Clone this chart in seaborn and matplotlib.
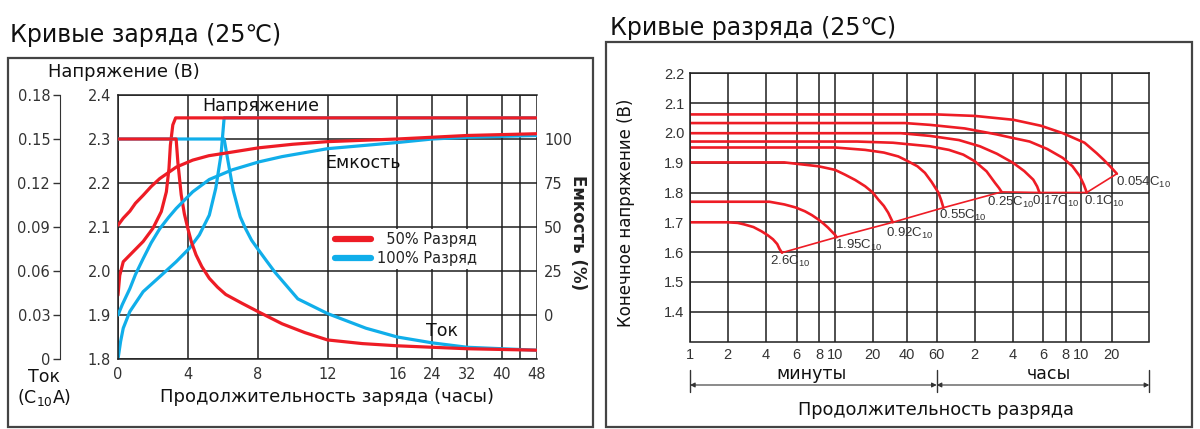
import numpy as np
import pandas as pd
import matplotlib
matplotlib.use("Agg")
import matplotlib.pyplot as plt
from matplotlib.patches import Rectangle
from matplotlib.lines import Line2D
import seaborn as sns

sns.set_style("white")
plt.rcParams['font.family'] = ['DejaVu Sans', 'Noto Sans CJK SC']

RED = '#ee1c25'
BLUE = '#10aeea'
INK = '#333333'
GRID = '#1e1e1e'

# ---------------- charge curves (hours) ----------------
charge_ticks = [0, 4, 8, 12, 16, 24, 32, 40, 48]

volt50_t = [0, 0.1, 0.3, 0.87, 1.44, 2.0, 2.48, 2.77, 2.92, 3.0, 3.14, 3.3, 48]
volt50_v = [1.945, 1.99, 2.021, 2.044, 2.067, 2.097, 2.135, 2.18, 2.233, 2.286, 2.332, 2.348, 2.348]
volt100_t = [0, 0.15, 0.3, 0.68, 1.44, 2.39, 3.33, 4.1, 4.66, 5.23, 5.6, 5.9, 6.08, 48]
volt100_v = [1.80, 1.84, 1.87, 1.908, 1.953, 1.987, 2.021, 2.052, 2.082, 2.127, 2.188, 2.264, 2.348, 2.348]

cur50_t = [0, 3.33, 3.43, 3.62, 3.8, 4.0, 4.2, 4.47, 4.8, 5.23, 5.7, 6.17, 7.1, 8.07, 9.4, 10.7,
           12, 14, 16, 24, 32, 48]
cur50_a = [0.15, 0.15, 0.134, 0.112, 0.099, 0.089, 0.080, 0.071, 0.063, 0.055, 0.049, 0.044, 0.038,
           0.032, 0.024, 0.018, 0.013, 0.0105, 0.009, 0.008, 0.007, 0.006]
cur100_t = [0, 6.08, 6.3, 6.6, 7.0, 7.3, 7.65, 8.07, 8.5, 9.0, 10.3, 12, 14.2, 16, 20, 24, 32, 48]
cur100_a = [0.15, 0.15, 0.135, 0.115, 0.097, 0.089, 0.081, 0.074, 0.067, 0.059, 0.041, 0.031,
            0.021, 0.015, 0.013, 0.011, 0.008, 0.006]

cap50_t = [0, 0.3, 0.68, 1.0, 1.44, 1.9, 2.39, 2.9, 3.33, 4.28, 5.2, 6.17, 8.07, 10, 12, 16, 24,
           32, 48]
cap50_p = [51, 55, 59, 63.5, 68, 73, 77.5, 81, 84, 88, 90.5, 92, 95, 97, 98.5, 100, 101, 102, 103]
cap100_t = [0, 0.25, 0.68, 1.0, 1.44, 1.9, 2.39, 2.9, 3.33, 4.28, 5.23, 6.55, 8.07, 9.4, 12, 16,
            24, 32, 48]
cap100_p = [0, 6, 15, 23, 32, 41, 49, 55.5, 60.5, 70, 77, 82.5, 87, 90, 94.5, 98, 100, 101, 102]

# ---------------- discharge curves (minutes) ----------------
rates = ["2.6", "1.95", "0.92", "0.55", "0.25", "0.17", "0.1", "0.054"]
dis_t = [
    [1, 2.0, 2.4, 2.7, 3.2, 3.7, 4.1, 4.4, 4.65, 4.8, 4.95],
    [1, 4.2, 5.1, 5.9, 6.67, 7.3, 7.95, 8.5, 9.08, 9.6, 10.0, 10.3],
    [1, 5.1, 7.95, 10, 12, 14.5, 17.4, 20, 22.4, 25, 27.3, 29.9],
    [1, 10, 17.4, 25, 33.4, 40, 46, 51, 56, 61.8, 65, 67.8],
    [1, 15, 30, 54.6, 75, 97.5, 120, 149, 174, 187, 196],
    [1, 35, 54.6, 90, 132, 180, 242, 280, 316, 333, 343],
    [1, 38, 54.6, 100, 179, 240, 301, 380, 463, 530, 591, 640, 683],
    [1, 60, 120, 242, 350, 463, 650, 854, 1000, 1157, 1320],
]
dis_v = [
    [1.70, 1.70, 1.698, 1.693, 1.684, 1.67, 1.657, 1.643, 1.627, 1.61, 1.598],
    [1.769, 1.769, 1.76, 1.75, 1.737, 1.724, 1.709, 1.696, 1.682, 1.668, 1.658, 1.65],
    [1.901, 1.901, 1.888, 1.876, 1.86, 1.842, 1.821, 1.80, 1.776, 1.755, 1.732, 1.70],
    [1.951, 1.951, 1.943, 1.934, 1.921, 1.906, 1.888, 1.866, 1.835, 1.80, 1.775, 1.749],
    [1.971, 1.971, 1.967, 1.955, 1.943, 1.927, 1.905, 1.871, 1.832, 1.815, 1.802],
    [1.999, 1.999, 1.990, 1.976, 1.955, 1.93, 1.899, 1.872, 1.843, 1.82, 1.80],
    [2.033, 2.033, 2.027, 2.015, 1.995, 1.983, 1.971, 1.946, 1.916, 1.888, 1.854, 1.826, 1.80],
    [2.062, 2.062, 2.057, 2.044, 2.024, 1.999, 1.967, 1.932, 1.91, 1.888, 1.863],
]
dis_ticks = [1, 2, 4, 6, 8, 10, 20, 40, 60, 120, 240, 360, 480, 600, 1200]
dis_labels = ["1", "2", "4", "6", "8", "10", "20", "40", "60", "2", "4", "6", "8", "10", "20"]

W, H = 1200, 429


def fx(x):
    return x / W


def fy(y):
    return 1 - y / H


fig = plt.figure(figsize=(12, 4.29), dpi=100)

# ======================= left panel: charge =======================
fig.text(fx(10), fy(35), "Кривые заряда (25℃)", fontsize=17, va='center', color='#111')
fig.add_artist(Rectangle((fx(8), fy(427)), (593 - 8) / W, (427 - 58) / H, transform=fig.transFigure,
                         fill=False, ec='#444', lw=1.6))

ax = fig.add_axes([fx(118), fy(359), (537 - 118) / W, (359 - 95) / H])


def fwd_h(t):
    t = np.asarray(t, dtype=float)
    return np.where(t <= 16, t, 16 + (t - 16) / 4)


def inv_h(u):
    u = np.asarray(u, dtype=float)
    return np.where(u <= 16, u, 16 + (u - 16) * 4)


ax.set_xscale('function', functions=(fwd_h, inv_h))
ax.set_xlim(0, 48)
ax.set_ylim(1.8, 2.4)

ax_cur = ax.twinx()
ax_cap = ax.twinx()


def two(t50, v50, t100, v100):
    return pd.concat([pd.DataFrame({'hours': t100, 'value': v100, 'discharge': '100% Разряд'}),
                      pd.DataFrame({'hours': t50, 'value': v50, 'discharge': '50% Разряд'})])


pal = {'50% Разряд': RED, '100% Разряд': BLUE}
for a, df in [(ax, two(volt50_t, volt50_v, volt100_t, volt100_v)),
              (ax_cur, two(cur50_t, cur50_a, cur100_t, cur100_a)),
              (ax_cap, two(cap50_t, cap50_p, cap100_t, cap100_p))]:
    sns.lineplot(data=df, x='hours', y='value', hue='discharge', palette=pal, estimator=None,
                 sort=False, lw=2.3, legend=False, ax=a)
    a.set_xlabel('')
    a.set_ylabel('')

ax.set_xlim(0, 48)
ax.set_ylim(1.8, 2.4)
ax.set_xticks(charge_ticks)
ax.set_xticklabels([str(v) for v in charge_ticks])
ax.set_xticks([44], minor=True)
ax.set_yticks(np.round(np.arange(1.8, 2.41, 0.1), 1))
ax.set_yticklabels([f"{v:.1f}" for v in np.arange(1.8, 2.41, 0.1)])
ax.grid(True, which='both', color=GRID, lw=1.1)
ax.tick_params(axis='both', which='both', length=0, labelsize=10.5, colors=INK)
ax.tick_params(axis='x', pad=6)
ax.tick_params(axis='y', pad=5)
for s in ['left', 'bottom', 'top']:
    ax.spines[s].set_color(GRID)
    ax.spines[s].set_linewidth(1.1)
ax.spines['right'].set_visible(False)
ax.set_xlabel("Продолжительность заряда (часы)", fontsize=13, color='#111', labelpad=4)

ax_cur.set_ylim(0, 0.18)
ax_cur.yaxis.set_ticks_position('left')
ax_cur.yaxis.set_label_position('left')
for s in ['right', 'top', 'bottom']:
    ax_cur.spines[s].set_visible(False)
ax_cur.spines['left'].set_visible(True)
ax_cur.spines['left'].set_position(('outward', 41.8))
ax_cur.spines['left'].set_color(INK)
ax_cur.set_yticks([0, 0.03, 0.06, 0.09, 0.12, 0.15, 0.18])
ax_cur.set_yticklabels(['0', '0.03', '0.06', '0.09', '0.12', '0.15', '0.18'])
ax_cur.tick_params(axis='y', length=5, width=1, direction='out', labelsize=10.5, colors=INK, pad=2)

ax_cap.set_ylim(-25, 125)
ax_cap.set_yticks([0, 25, 50, 75, 100])
ax_cap.set_yticklabels(['0', '25', '50', '75', '100'])
ax_cap.tick_params(axis='y', length=0, labelsize=10.5, colors=INK, pad=5)
for s in ax_cap.spines.values():
    s.set_visible(False)
ax_cap.set_ylabel("Емкость (%)", rotation=270, fontsize=12, fontweight='bold', color='#222')
ax_cap.yaxis.set_label_coords((587 - 118) / 419, (359 - 233) / 264)

handles = [Line2D([], [], color=RED, lw=4.5), Line2D([], [], color=BLUE, lw=4.5)]
leg = ax_cap.legend(handles, ["\u200750% Разряд", "100% Разряд"], loc='center',
                    bbox_to_anchor=((406 - 118) / 419, (359 - 249) / 264), frameon=True,
                    facecolor='white', edgecolor='none', framealpha=1, fontsize=10.5,
                    handlelength=2.5, handletextpad=0.4, labelspacing=0.25, borderpad=0.2)
for t in leg.get_texts():
    t.set_color('#222')

fig.text(fx(124), fy(72), "Напряжение (В)", fontsize=12.9, ha='center', va='center', color='#111')
fig.text(fx(44), fy(377), "Ток", fontsize=12.5, ha='center', va='center', color='#111')
fig.text(fx(44), fy(398), r"(C$_{\mathregular{10}}$A)", fontsize=12.5, ha='center', va='center', color='#111')
fig.text(fx(261), fy(106), "Напряжение", fontsize=12.5, ha='center', va='center', color='#111')
fig.text(fx(363), fy(163), "Емкость", fontsize=12.5, ha='center', va='center', color='#111')
fig.text(fx(442), fy(331), "Ток", fontsize=12.5, ha='center', va='center', color='#111')

# ======================= right panel: discharge =======================
fig.text(fx(610), fy(28), "Кривые разряда (25℃)", fontsize=17, va='center', color='#111')
fig.add_artist(Rectangle((fx(606), fy(427)), (1192 - 606) / W, (427 - 42) / H, transform=fig.transFigure,
                         fill=False, ec='#444', lw=1.6))

axr = fig.add_axes([fx(690), fy(341.5), (1149.3 - 690) / W, (341.5 - 73.3) / H])

# drawn tick spacing of the original (pixels from left edge) -> piecewise log scale
scale_min = np.log10([0.1, 1, 2, 4, 6, 8, 10, 20, 40, 60, 120, 240, 360, 480, 600, 1200, 2400, 24000])
scale_pos = np.array([-145, 0, 37.7, 75.7, 106.7, 129, 145, 182.7, 217.3, 246.7, 284.7, 322.7,
                      353, 375.7, 391, 421.7, 459.3, 584])


def fwd_m(m):
    m = np.clip(np.asarray(m, dtype=float), 1e-3, None)
    return np.interp(np.log10(m), scale_min, scale_pos)


def inv_m(p):
    return 10 ** np.interp(np.asarray(p, dtype=float), scale_pos, scale_min)


axr.set_xscale('function', functions=(fwd_m, inv_m))

rows = []
for r, ts, vs in zip(rates, dis_t, dis_v):
    rows.append(pd.DataFrame({'minutes': ts, 'volts': vs, 'rate': r}))
dis = pd.concat(rows)
sns.lineplot(data=dis, x='minutes', y='volts', hue='rate', palette=[RED] * len(rates),
             estimator=None, sort=False, lw=1.9, legend=False, ax=axr)

end_t = [ts[-1] for ts in dis_t]
end_v = [vs[-1] for vs in dis_v]
axr.plot(end_t, end_v, color=RED, lw=1.2)

label_off = [(8, -9, 'center'), (-2, -8, 'left'), (-7, -11, 'left'), (-4, -7.5, 'left'),
             (-15, -11, 'left'), (-7.5, -9, 'left'), (-3, -9, 'left'), (-1, -9, 'left')]
for r, x, y, (dx, dy, ha) in zip(rates, end_t, end_v, label_off):
    axr.annotate(r + r"C$_{\mathregular{10}}$", xy=(x, y), xytext=(dx * 0.72, dy * 0.72),
                 textcoords='offset points', ha=ha, va='center', fontsize=9.5,
                 family='Liberation Sans', color=INK)

axr.set_xlim(1, 2400)
axr.set_ylim(1.3, 2.2)
axr.set_xticks(dis_ticks)
axr.set_xticklabels(dis_labels, family='Liberation Sans')
axr.set_yticks(np.round(np.arange(1.4, 2.21, 0.1), 1))
axr.set_yticklabels([f"{v:.1f}" for v in np.arange(1.4, 2.21, 0.1)], family='Liberation Sans')
axr.grid(True, color=GRID, lw=1.1)
axr.tick_params(axis='both', length=0, labelsize=10.5, colors=INK)
axr.tick_params(axis='x', pad=5)
axr.tick_params(axis='y', pad=4)
for s in axr.spines.values():
    s.set_color(GRID)
    s.set_linewidth(1.1)
axr.set_xlabel('')
axr.set_ylabel("Конечное напряжение (В)", fontsize=12, color='#111')
axr.yaxis.set_label_coords(-(690 - 635) / 459.3, (341.5 - 213) / 268.2)

trans = axr.get_xaxis_transform()
y_arrow = -(385 - 341.5) / 268.2
y_top = -(370 - 341.5) / 268.2
y_bot = -(392 - 341.5) / 268.2
for xm in [1, 60, 2400]:
    axr.plot([xm, xm], [y_top, y_bot], transform=trans, clip_on=False, color=INK, lw=1)
for a0, a1 in [(1, 60), (60, 2400)]:
    axr.annotate('', xy=(a0, y_arrow), xytext=(a1, y_arrow), xycoords=trans, textcoords=trans,
                 arrowprops=dict(arrowstyle='<|-|>', color=INK, lw=0.8, mutation_scale=7,
                                 shrinkA=0, shrinkB=0))
axr.text((812 - 690) / 459.3, -(374 - 341.5) / 268.2, "минуты", transform=axr.transAxes,
         ha='center', va='center', fontsize=12.5, color='#111')
axr.text((1049 - 690) / 459.3, -(374 - 341.5) / 268.2, "часы", transform=axr.transAxes,
         ha='center', va='center', fontsize=12.5, color='#111')
axr.text((936 - 690) / 459.3, -(410 - 341.5) / 268.2, "Продолжительность разряда",
         transform=axr.transAxes, ha='center', va='center', fontsize=12.8, color='#111')

fig.savefig("out.png", dpi=100)
